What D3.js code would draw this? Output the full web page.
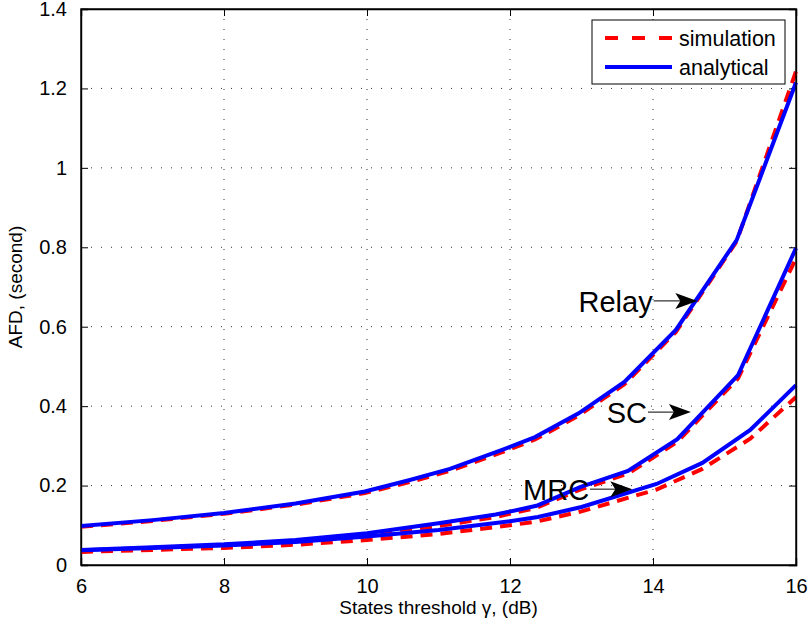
<!DOCTYPE html>
<html>
<head>
<meta charset="utf-8">
<script src="https://cdn.jsdelivr.net/npm/d3@7/dist/d3.min.js"></script>
<style>
body { margin: 0; background: #fff; }
text { font-family: "Liberation Sans", Arial, Helvetica, sans-serif; fill: #000; }
</style>
</head>
<body>
<div class="svg-container"></div>
<script>
// tick values / labels
var xTicks = [6, 8, 10, 12, 14, 16];
var yTicks = [0, 0.2, 0.4, 0.6, 0.8, 1, 1.2, 1.4];
var yTickLabels = ["0", "0.2", "0.4", "0.6", "0.8", "1", "1.2", "1.4"];

// Relay curve
var relayX   = [6, 7, 8, 9, 9.97, 10.6, 11.16, 11.89, 12.35, 12.96, 13.6, 14.32, 15.17, 16];
var relayAna = [0.098, 0.113, 0.131, 0.155, 0.185, 0.214, 0.242, 0.29, 0.322, 0.382, 0.461, 0.592, 0.818, 1.215];
var relaySim = [0.096, 0.111, 0.129, 0.152, 0.181, 0.209, 0.237, 0.284, 0.316, 0.376, 0.455, 0.587, 0.815, 1.243];

// SC curve
var scX   = [6, 7, 8, 9, 10, 11, 11.8, 12.37, 12.98, 13.65, 14.34, 15.19, 16];
var scAna = [0.038, 0.045, 0.052, 0.063, 0.08, 0.105, 0.127, 0.149, 0.196, 0.237, 0.317, 0.478, 0.798];
var scSim = [0.034, 0.041, 0.048, 0.058, 0.074, 0.098, 0.121, 0.144, 0.19, 0.23, 0.31, 0.47, 0.772];

// MRC curve
var mrcX   = [6, 7, 8, 9, 10, 11, 12, 12.39, 13.0, 14.05, 14.69, 15.36, 16];
var mrcAna = [0.037, 0.043, 0.049, 0.058, 0.072, 0.088, 0.11, 0.121, 0.146, 0.204, 0.257, 0.34, 0.453];
var mrcSim = [0.033, 0.038, 0.043, 0.051, 0.063, 0.078, 0.1, 0.11, 0.135, 0.19, 0.242, 0.318, 0.423];

// text arrows: label, arrow start x, arrow tip x, arrow y (data units)
var noteLabels = ["Relay", "SC", "MRC"];
var noteFromX  = [14.01, 13.93, 13.12];
var noteToX    = [14.62, 14.53, 13.71];
var noteY      = [0.665, 0.385, 0.191];

var w = 810, h = 631;
var pLeft = 81, pRight = 796, pTop = 9, pBottom = 565;

var svg = d3.select(".svg-container")
    .append("svg")
    .attr("width", w)
    .attr("height", h);

var x = d3.scaleLinear().domain([6, 16]).range([pLeft, pRight]);
var y = d3.scaleLinear().domain([0, 1.4]).range([pBottom, pTop]);

// white plot background
svg.append("rect")
    .attr("x", pLeft).attr("y", pTop)
    .attr("width", pRight - pLeft).attr("height", pBottom - pTop)
    .attr("fill", "#fff");

// dotted grid
var grid = svg.append("g");
grid.selectAll(".vgrid")
    .data(xTicks.slice(1, -1))
    .enter().append("line")
    .attr("x1", function(d) { return x(d); })
    .attr("x2", function(d) { return x(d); })
    .attr("y1", pTop).attr("y2", pBottom)
    .attr("stroke", "#333")
    .attr("stroke-width", 1)
    .attr("stroke-dasharray", "1,9");
grid.selectAll(".hgrid")
    .data(yTicks.slice(1, -1))
    .enter().append("line")
    .attr("y1", function(d) { return y(d); })
    .attr("y2", function(d) { return y(d); })
    .attr("x1", pLeft).attr("x2", pRight)
    .attr("stroke", "#333")
    .attr("stroke-width", 1)
    .attr("stroke-dasharray", "1,9");

// axes (MATLAB style: ticks inward on all four sides)
var axB = svg.append("g").attr("transform", "translate(0," + pBottom + ")")
    .call(d3.axisBottom(x).tickValues(xTicks).tickSize(-7).tickPadding(14));
var axT = svg.append("g").attr("transform", "translate(0," + pTop + ")")
    .call(d3.axisTop(x).tickValues(xTicks).tickSize(-7).tickFormat(""));
var axL = svg.append("g").attr("transform", "translate(" + pLeft + ",0)")
    .call(d3.axisLeft(y).tickValues(yTicks).tickSize(-7).tickPadding(14)
        .tickFormat(function(d, i) { return yTickLabels[i]; }));
var axR = svg.append("g").attr("transform", "translate(" + pRight + ",0)")
    .call(d3.axisRight(y).tickValues(yTicks).tickSize(-7).tickFormat(""));

[axB, axT, axL, axR].forEach(function(a) {
    a.select(".domain").attr("stroke", "#000").attr("stroke-width", 1.4);
    a.selectAll(".tick line").attr("stroke", "#000").attr("stroke-width", 1);
    a.selectAll(".tick text")
        .attr("font-size", 20)
        .attr("font-family", "Liberation Sans, Arial, sans-serif")
        .attr("fill", "#000");
});
axB.selectAll(".tick text").attr("dy", "0.71em");

// curves
var line = d3.line()
    .x(function(d) { return x(d[0]); })
    .y(function(d) { return y(d[1]); });

function pairs(xs, ys) {
    return xs.map(function(v, i) { return [v, ys[i]]; });
}

var curves = svg.append("g");
[[relayX, relaySim], [scX, scSim], [mrcX, mrcSim]].forEach(function(s) {
    curves.append("path")
        .attr("d", line(pairs(s[0], s[1])))
        .attr("fill", "none")
        .attr("stroke", "#ff0000")
        .attr("stroke-width", 4)
        .attr("stroke-dasharray", "12,8");
});
[[relayX, relayAna], [scX, scAna], [mrcX, mrcAna]].forEach(function(s) {
    curves.append("path")
        .attr("d", line(pairs(s[0], s[1])))
        .attr("fill", "none")
        .attr("stroke", "#0000ff")
        .attr("stroke-width", 4);
});

// redraw the frame over the curve ends
svg.append("rect")
    .attr("x", pLeft).attr("y", pTop)
    .attr("width", pRight - pLeft).attr("height", pBottom - pTop)
    .attr("fill", "none")
    .attr("stroke", "#000")
    .attr("stroke-width", 1.4);

// annotations with arrows
var notes = svg.append("g");
noteLabels.forEach(function(lab, i) {
    var x0 = x(noteFromX[i]), x1 = x(noteToX[i]), yy = y(noteY[i]);
    notes.append("line")
        .attr("x1", x0).attr("x2", x1 - 10)
        .attr("y1", yy).attr("y2", yy)
        .attr("stroke", "#000").attr("stroke-width", 1);
    notes.append("path")
        .attr("d", "M" + x1 + "," + yy +
            "L" + (x1 - 22) + "," + (yy - 8) +
            "L" + (x1 - 17) + "," + yy +
            "L" + (x1 - 22) + "," + (yy + 8) + "Z")
        .attr("fill", "#000");
    notes.append("text")
        .attr("x", x0 - 1)
        .attr("y", yy + 11)
        .attr("text-anchor", "end")
        .attr("font-size", 29)
        .text(lab);
});

// legend
var lg = svg.append("g");
lg.append("rect")
    .attr("x", 592).attr("y", 20)
    .attr("width", 193).attr("height", 64)
    .attr("fill", "#fff")
    .attr("stroke", "#000")
    .attr("stroke-width", 1);
lg.append("line")
    .attr("x1", 605).attr("x2", 672).attr("y1", 38).attr("y2", 38)
    .attr("stroke", "#ff0000").attr("stroke-width", 4)
    .attr("stroke-dasharray", "13,14");
lg.append("line")
    .attr("x1", 605).attr("x2", 672).attr("y1", 67).attr("y2", 67)
    .attr("stroke", "#0000ff").attr("stroke-width", 4);
lg.append("text").attr("x", 679).attr("y", 46).attr("font-size", 21.5).text("simulation");
lg.append("text").attr("x", 679).attr("y", 75).attr("font-size", 21.5).text("analytical");

// axis titles
svg.append("text")
    .attr("x", (pLeft + pRight) / 2)
    .attr("y", 614)
    .attr("text-anchor", "middle")
    .attr("font-size", 19)
    .text("States threshold \u03b3, (dB)");
svg.append("text")
    .attr("transform", "translate(22," + ((pTop + pBottom) / 2) + ") rotate(-90)")
    .attr("text-anchor", "middle")
    .attr("font-size", 19)
    .text("AFD, (second)");
</script>
</body>
</html>
